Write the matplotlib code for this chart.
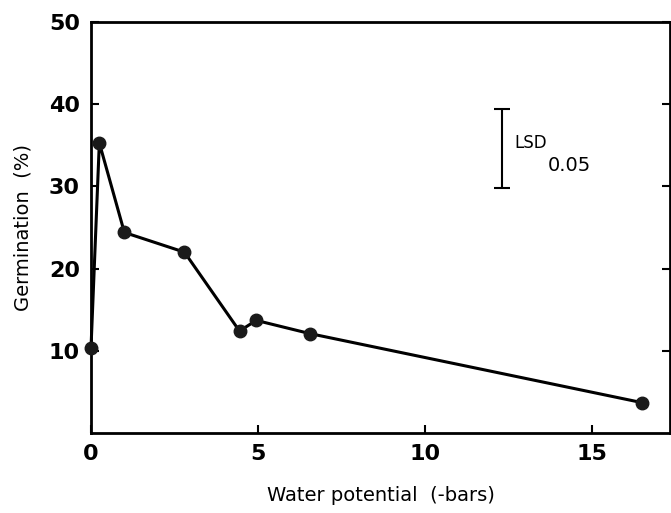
import matplotlib
matplotlib.use("Agg")
import matplotlib.pyplot as plt

# water potential (-bars) vs germination (%)
potential = [0.0, 0.25, 1.0, 2.8, 4.45, 4.95, 6.55, 16.5]
germination = [10.3, 35.3, 24.4, 22.0, 12.4, 13.7, 12.1, 3.7]

lsd_x = 12.3
lsd_low = 29.8
lsd_high = 39.4

x_ticks = [0, 5, 10, 15]
y_ticks = [10, 20, 30, 40, 50]

plt.rcParams["font.family"] = ["DejaVu Sans"]

fig = plt.figure(figsize=(6.71, 5.13), dpi=100)
ax = fig.add_axes([0.1356, 0.156, 0.863, 0.801])

ax.plot(potential, germination, color="black", linewidth=2.2,
        marker="o", markersize=9, markerfacecolor="#1a1a1a",
        markeredgecolor="#1a1a1a", clip_on=False, zorder=3)

# LSD bar
ax.errorbar([lsd_x], [(lsd_low + lsd_high) / 2],
            yerr=[[(lsd_high - lsd_low) / 2]], fmt="none",
            ecolor="black", elinewidth=1.5, capsize=6, capthick=1.5)
ax.text(lsd_x + 0.38, 35.3, "LSD", fontsize=12, va="center", ha="left")
ax.text(lsd_x + 1.4, 32.6, "0.05", fontsize=14, va="center", ha="left")

ax.set_xlim(0, 17.35)
ax.set_ylim(0, 50)
ax.set_xticks(x_ticks)
ax.set_yticks(y_ticks)
ax.set_xticklabels([str(t) for t in x_ticks], fontsize=16, fontweight="bold")
ax.set_yticklabels([str(t) for t in y_ticks], fontsize=16, fontweight="bold")
ax.tick_params(direction="in", length=6, width=1.5, right=True, pad=8)

for sp in ax.spines.values():
    sp.set_linewidth(2)

ax.set_xlabel("Water potential  (-bars)", fontsize=14, labelpad=16)
ax.set_ylabel("Germination  (%)", fontsize=14, labelpad=12)

fig.savefig("out.png", dpi=100)
